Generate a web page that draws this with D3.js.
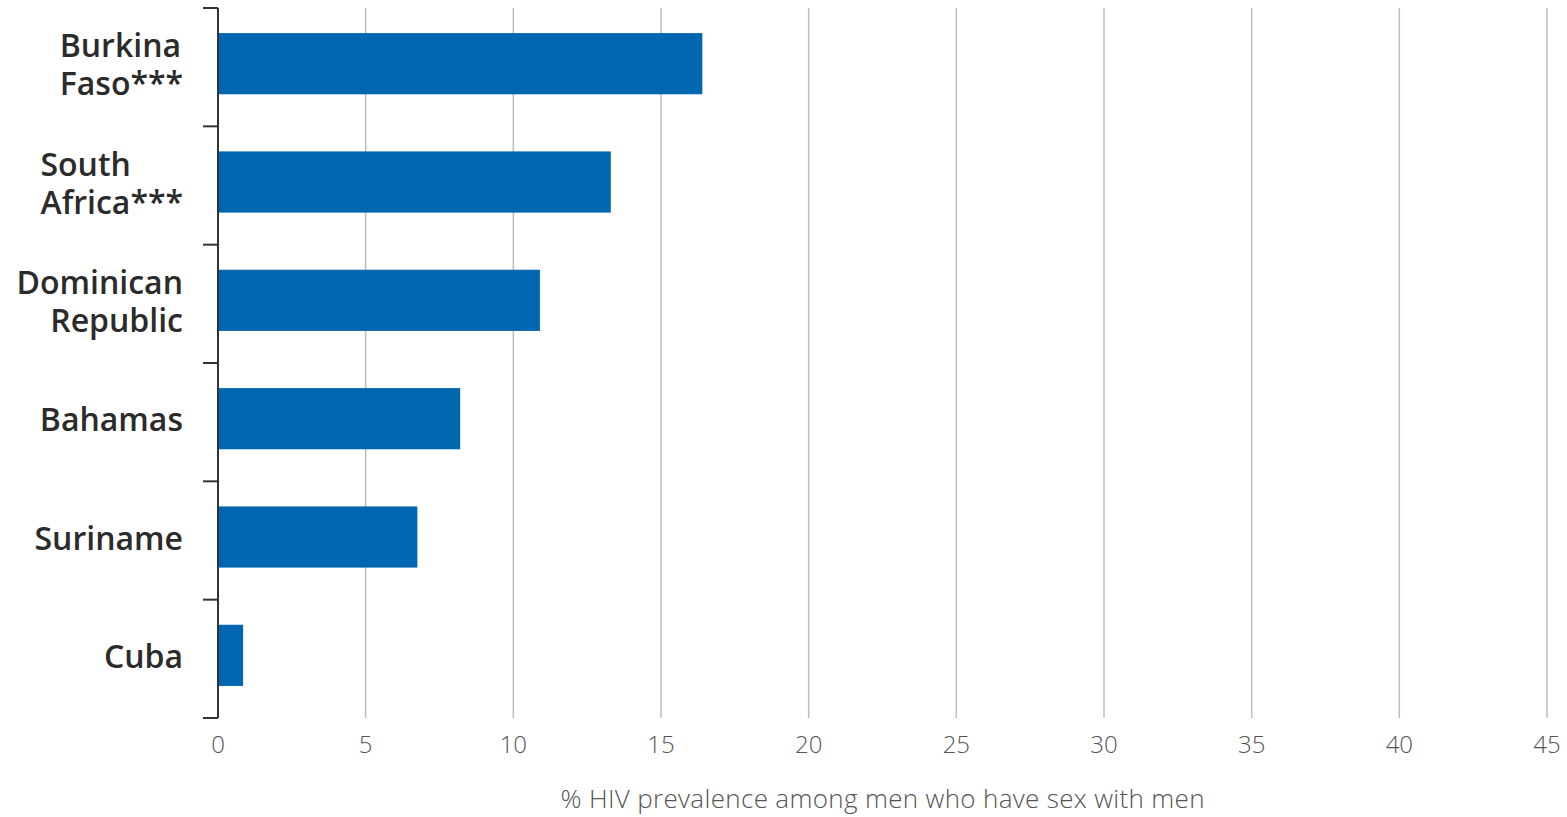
<!DOCTYPE html>
<html>
<head>
<meta charset="utf-8">
<script src="https://cdn.jsdelivr.net/npm/d3@7"></script>
<style>
  body { margin: 0; background: #fff; }
  svg { display: block; }
</style>
</head>
<body>
<div id="chart"></div>
<script>
// Données
const countries = [
  ["Burkina", "Faso***"],
  ["South", "Africa***"],
  ["Dominican", "Republic"],
  ["Bahamas"],
  ["Suriname"],
  ["Cuba"]
];
const prevalence = [16.4, 13.3, 10.9, 8.2, 6.75, 0.85];
const xTicks = [0, 5, 10, 15, 20, 25, 30, 35, 40, 45];
const xTitle = "% HIV prevalence among men who have sex with men";

const width = 1567;
const height = 817;
const margin = { top: 8, right: 20, bottom: 99, left: 218 };

const svg = d3.select('#chart')
  .append('svg')
  .attr('width', width)
  .attr('height', height);

const keys = countries.map((d, i) => i);

const x = d3.scaleLinear()
  .domain([0, 45])
  .range([margin.left, 1547]);

const y = d3.scaleBand()
  .domain(keys)
  .range([margin.top, height - margin.bottom])
  .padding(0);

const step = y.step();

// Grille verticale
svg.append('g')
  .selectAll('line')
  .data(xTicks.filter(t => t > 0))
  .enter()
  .append('line')
  .attr('x1', d => x(d))
  .attr('x2', d => x(d))
  .attr('y1', margin.top)
  .attr('y2', height - margin.bottom)
  .attr('stroke', '#bdbdbd')
  .attr('stroke-width', 1.5);

// Barres
svg.append('g')
  .selectAll('rect')
  .data(prevalence)
  .enter()
  .append('rect')
  .attr('x', x(0))
  .attr('y', (d, i) => y(i) + step * 0.212)
  .attr('width', d => x(d) - x(0))
  .attr('height', step * 0.517)
  .attr('fill', '#0066b0');

// Axe vertical
const yAxis = svg.append('g');
yAxis.append('line')
  .attr('x1', x(0)).attr('x2', x(0))
  .attr('y1', margin.top).attr('y2', height - margin.bottom)
  .attr('stroke', '#333')
  .attr('stroke-width', 2);

const bounds = keys.map(k => y(k)).concat([height - margin.bottom]);
yAxis.selectAll('.tick')
  .data(bounds)
  .enter()
  .append('line')
  .attr('x1', x(0) - 15).attr('x2', x(0))
  .attr('y1', d => d).attr('y2', d => d)
  .attr('stroke', '#333')
  .attr('stroke-width', 2);

// Libellés des pays
const labelRight = 183;
const lh = 38;
const labels = svg.append('g')
  .selectAll('text')
  .data(countries)
  .enter()
  .append('text')
  .attr('font-family', '"Open Sans", sans-serif')
  .attr('font-weight', 600)
  .attr('font-size', 32)
  .attr('fill', '#2b2b2b');

labels.each(function(lines, i) {
  const cy = y(i) + step / 2;
  const y0 = cy - (lines.length - 1) * lh / 2 + 9;
  const sel = d3.select(this);
  sel.selectAll('tspan')
    .data(lines)
    .enter()
    .append('tspan')
    .attr('y', (d, j) => y0 + j * lh)
    .text(d => d);
  // les libellés avec astérisques sont alignés à gauche dans leur bloc
  if (lines.some(l => l.includes('*'))) {
    const w = d3.max(sel.selectAll('tspan').nodes(), n => n.getComputedTextLength());
    sel.attr('text-anchor', 'start')
      .selectAll('tspan').attr('x', labelRight - w);
  } else {
    sel.attr('text-anchor', 'end')
      .selectAll('tspan').attr('x', labelRight);
  }
});

// Étiquettes de l'axe x
svg.append('g')
  .selectAll('text')
  .data(xTicks)
  .enter()
  .append('text')
  .attr('x', d => x(d))
  .attr('y', 753)
  .attr('text-anchor', 'middle')
  .attr('font-family', '"Open Sans", sans-serif')
  .attr('font-weight', 300)
  .attr('font-size', 24)
  .attr('fill', '#555')
  .text(d => d);

// Titre de l'axe x
svg.append('text')
  .attr('x', (x(0) + x(45)) / 2)
  .attr('y', 808)
  .attr('text-anchor', 'middle')
  .attr('font-family', '"Open Sans", sans-serif')
  .attr('font-weight', 300)
  .attr('font-size', 26)
  .attr('textLength', 644)
  .attr('lengthAdjust', 'spacing')
  .attr('fill', '#555')
  .text(xTitle);
</script>
</body>
</html>
